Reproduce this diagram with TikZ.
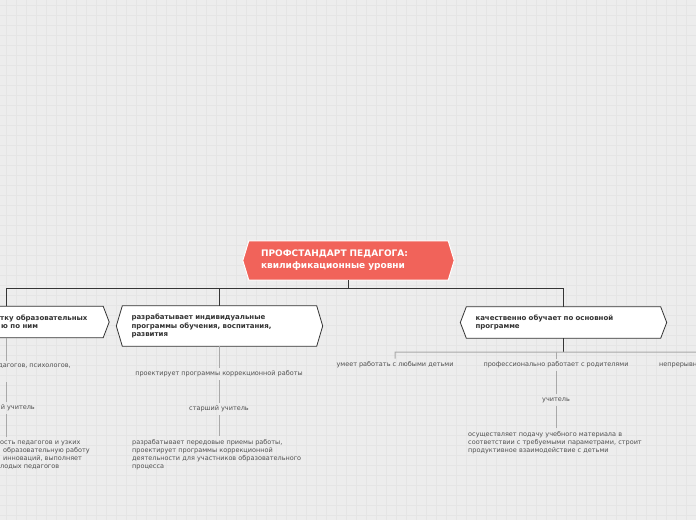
\documentclass[tikz,border=0pt]{standalone}
\usepackage{fontspec}
\setmainfont{DejaVu Sans}
\usetikzlibrary{backgrounds,calc}
\definecolor{bgc}{HTML}{EDEDED}
\definecolor{gridc}{HTML}{E5E5E5}
\definecolor{rootc}{HTML}{F1635A}
\definecolor{darkc}{HTML}{353535}
\definecolor{grayc}{HTML}{A9A9A9}
\definecolor{txtc}{HTML}{333333}
\definecolor{gtxt}{HTML}{505050}
\newcommand\hexof[3]{\path[#3] (#1.west) -- ([xshift=#2]#1.north west) -- ([xshift=-#2]#1.north east) -- (#1.east) -- ([xshift=-#2]#1.south east) -- ([xshift=#2]#1.south west) -- cycle;}
\begin{document}
\begin{tikzpicture}[x=1pt,y=-1pt,
 boxfont/.style={font=\fontsize{7}{8.5}\selectfont\bfseries, text=txtc, align=left},
 box/.style={boxfont, inner ysep=0pt, inner xsep=15pt, text width=176pt},
 rootbox/.style={inner ysep=0pt, inner xsep=18pt, text width=175pt, minimum height=39pt, align=left, font=\fontsize{9}{12}\selectfont\bfseries, text=white},
 lab/.style={inner sep=3pt, font=\fontsize{6.5}{8}\selectfont, text=gtxt},
 blkfont/.style={inner xsep=0pt, inner ysep=4pt, align=left, font=\fontsize{6.5}{8}\selectfont, text=gtxt},
 blk/.style={blkfont, text width=200pt},
 darkline/.style={draw=darkc, line width=0.8pt},
 grayline/.style={draw=grayc, line width=1pt},
 hexfill/.style={fill=white, draw=darkc, line width=0.8pt},
 rootfill/.style={fill=rootc, draw=white, line width=1pt}]

\useasboundingbox (0,0) rectangle (696,520);
\begin{scope}[on background layer]
\fill[bgc] (0,0) rectangle (696,520);
\foreach \x in {6,16,...,696} \draw[gridc, line width=0.5pt] (\x,0) -- (\x,520);
\foreach \y in {5,15,...,515} \draw[gridc, line width=0.5pt] (0,\y) -- (696,\y);
\end{scope}

% boxes
\node[rootbox] (root) at (348.5,260.5) {ПРОФСТАНДАРТ ПЕДАГОГА:\\квилификационные уровни};
\node[box, minimum height=31pt] (c1) at (6,322) {};
\node[boxfont, inner sep=0pt, anchor=west] (c1t) at (0,322) {тку образовательных\\\hspace*{1pt}ю по ним};
\node[box, minimum height=40pt] (c2) at (219.5,326) {разрабатывает индивидуальные\\программы обучения, воспитания,\\развития};
\node[box, minimum height=31pt] (c3) at (563.5,322.5) {качественно обучает по основной\\программе};

\begin{scope}[on background layer]
\hexof{root}{6}{rootfill}
\hexof{c1}{6}{hexfill}
\hexof{c2}{6}{hexfill}
\hexof{c3}{6}{hexfill}
\end{scope}

% first-level connectors
\draw[darkline] (root.south) -- ++(0,8.5) coordinate (bus);
\draw[darkline] (c1.north) |- (bus) -| (c3.north);
\draw[darkline] (c2.north) -- (c2.north |- bus);

% branch 1
\node[lab, anchor=east] (t1) at (74,366) {дагогов, психологов,};
\node[lab, anchor=east] (s1) at (38,408) {й учитель};
\node[blkfont, anchor=west] (d1) at (0,455) {ость педагогов и узких\\\hspace*{3pt}образовательную работу\\\hspace*{3pt}инноваций, выполняет\\лодых педагогов};
\coordinate (t1b) at (6,382);
\draw[grayline] (c1.south) -- (c1.south |- t1.north);
\draw[grayline] (t1b) -- (t1b |- s1.north);
\draw[grayline] (s1.south -| t1b) -- (t1b |- d1.north);

% branch 2
\node[lab] (p2) at (219,374) {проектирует программы коррекционной работы};
\node[lab] (s2) at (219,409) {старший учитель};
\node[blk, anchor=west] (d2) at (132,455) {разрабатывает передовые приемы работы,\\проектирует программы коррекционной\\деятельности для участников образовательного\\процесса};
\draw[grayline] (c2.south) -- (c2.south |- p2.north);
\draw[grayline] (p2.south) -- (s2.north);
\draw[grayline] (s2.south) -- (s2.south |- d2.north);

% branch 3
\node[lab] (l31) at (395,365) {умеет работать с любыми детьми};
\node[lab] (l32) at (556,365) {профессионально работает с родителями};
\node[lab, anchor=west] (l33) at (656,365) {непрерывн};
\node[lab] (u3) at (556,400) {учитель};
\node[blk, anchor=west] (d3) at (468,443) {осуществляет подачу учебного материала в\\соответствии с требуемыми параметрами, строит\\продуктивное взаимодействие с детьми};
\draw[darkline] (c3.south) -- ++(0,14) coordinate (bus3);
\coordinate (bus3e) at (700,352);
\draw[grayline] (l31.north) -- (l31.north |- bus3) -- (bus3e);
\draw[grayline] (l32.north) -- (l32.north |- bus3);
\draw[grayline] (l32.south) -- (u3.north);
\draw[grayline] (u3.south) -- (u3.south |- d3.north);
\end{tikzpicture}
\end{document}
